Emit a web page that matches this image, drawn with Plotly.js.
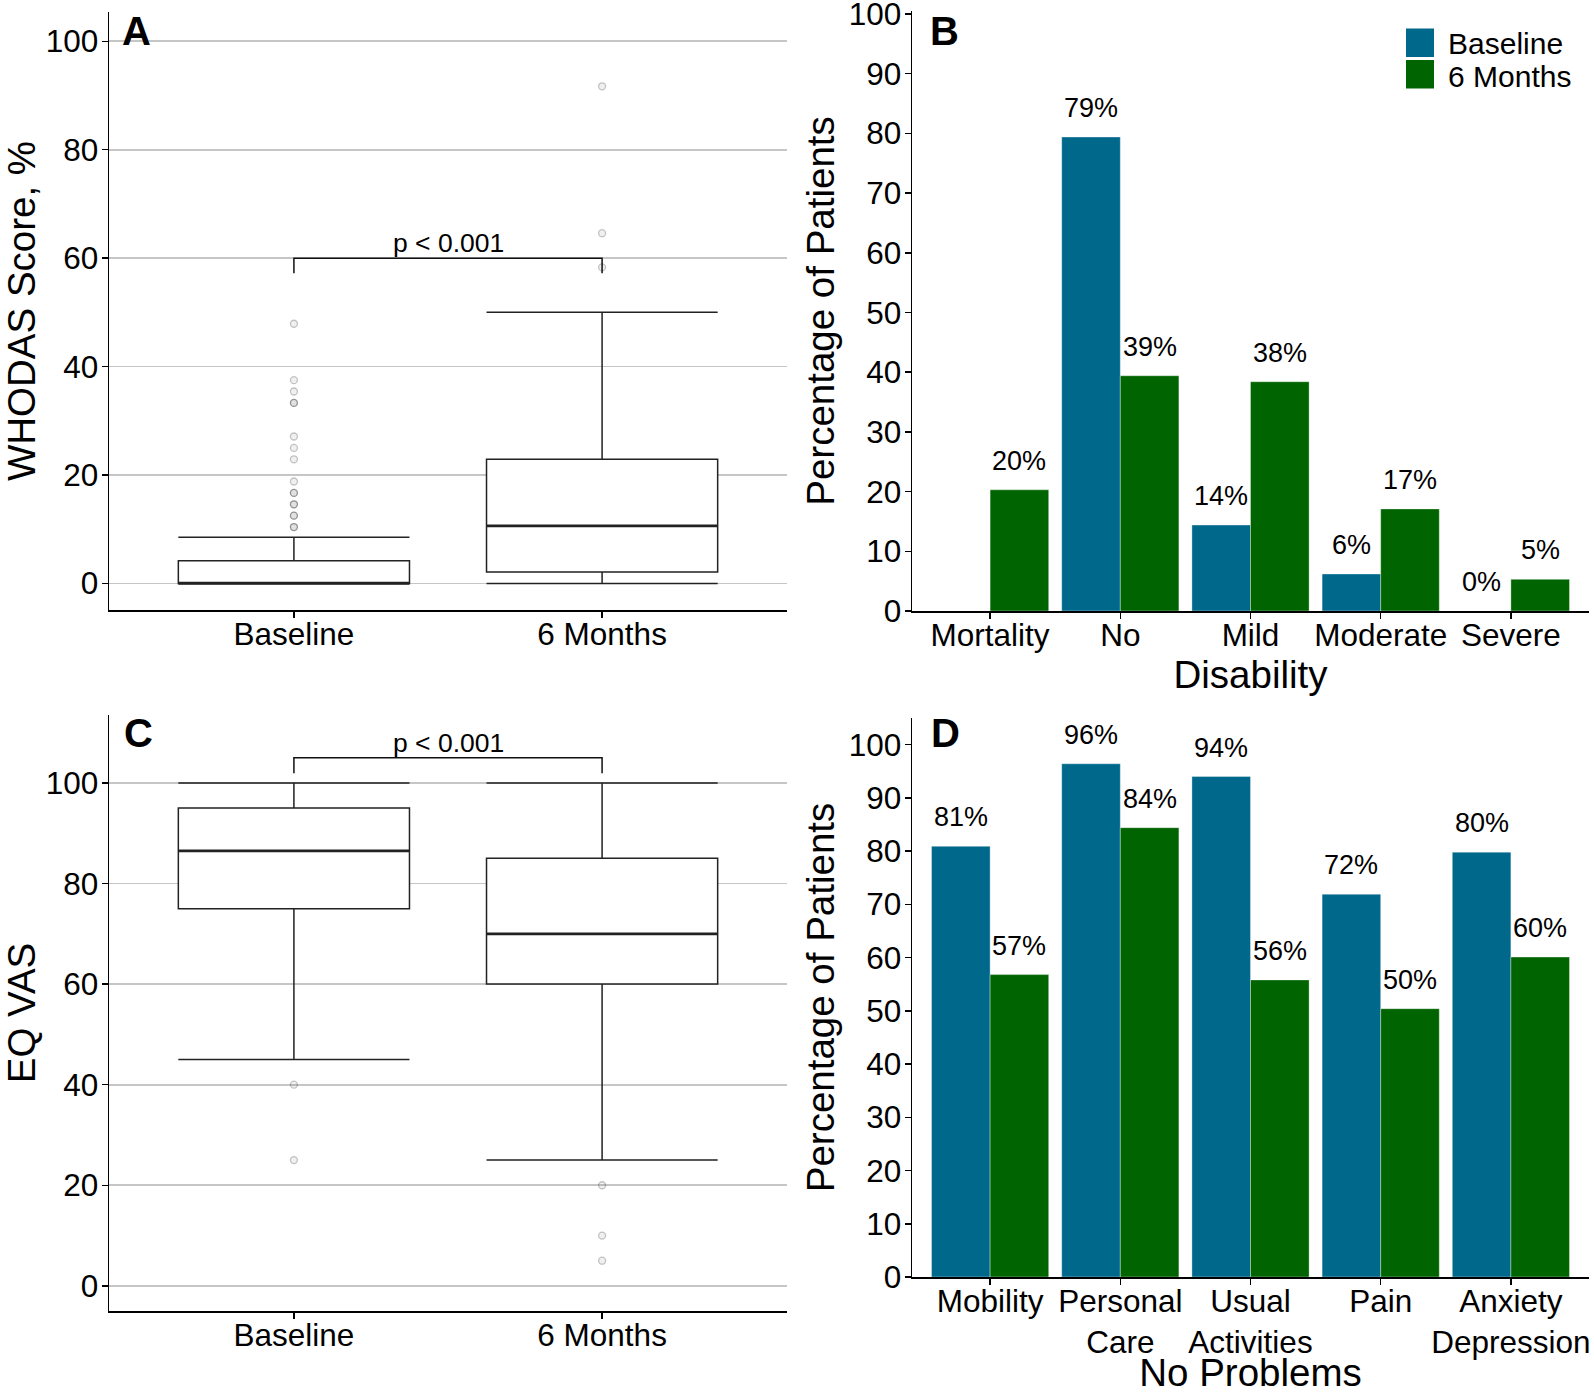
<!DOCTYPE html>
<html>
<head>
<meta charset="utf-8">
<script src="https://cdn.plot.ly/plotly-3.0.1.min.js"></script>
<style>
  html, body { margin: 0; padding: 0; background: #fff; }
  #chart { width: 1594px; height: 1394px; }
</style>
</head>
<body>
<div id="chart"></div>
<script>
// ---- data ----
const timepoints = ['Baseline', '6 Months'];

// A: WHODAS score (%) box stats, per timepoint
const whodasQ1 = [0, 2.1];
const whodasMedian = [0, 10.6];
const whodasQ3 = [4.2, 22.9];
const whodasLower = [0, 0];
const whodasUpper = [8.5, 50];
const whodasOutBaseline = [47.9, 37.5, 35.4, 33.3, 33.3, 27.1, 25.0, 22.9, 18.8, 16.7, 16.7, 14.6, 14.6, 12.5, 12.5, 10.4, 10.4];
const whodasOut6m = [91.7, 64.6, 58.3];

// C: EQ VAS box stats
const eqQ1 = [75, 60];
const eqMedian = [86.5, 70];
const eqQ3 = [95, 85];
const eqLower = [45, 25];
const eqUpper = [100, 100];
const eqOutBaseline = [40, 25];
const eqOut6m = [20, 10, 5];

// B: disability level, % of patients
const disabilityCats = ['Mortality', 'No', 'Mild', 'Moderate', 'Severe'];
const disabilityBaseline = [null, 79.4, 14.4, 6.2, 0];
const disability6m = [20.3, 39.4, 38.4, 17.1, 5.3];

// D: EQ-5D "no problems", % of patients
const problemCats = ['Mobility', 'Personal<br>Care', 'Usual<br>Activities', 'Pain', 'Anxiety<br>Depression'];
const problemBaseline = [80.9, 96.4, 94.0, 71.9, 79.8];
const problem6m = [56.8, 84.4, 55.8, 50.4, 60.1];

const pText = 'p < 0.001';
const bracketA = 60, bracketC = 105;

// ---- styling ----
const W = 1594, H = 1394;
const px = x => x / W;
const py = y => 1 - y / H;
const FONT = 'Liberation Sans, Arial, sans-serif';
const BLUE = '#00688B';
const GREEN = '#006400';
const BOXW = 0.75;
const BARW = 0.45;

const traces = [];
const annotations = [];
const shapes = [];

function addBoxPanel(xa, ya, q1, med, q3, lo, hi, outs, bracketY, drop) {
  const idx = timepoints.map((_, i) => i);
  traces.push({
    type: 'box', xaxis: xa, yaxis: ya, orientation: 'v',
    x: idx, q1: q1, median: med, q3: q3, lowerfence: lo, upperfence: hi,
    width: BOXW, whiskerwidth: 1, boxpoints: false,
    fillcolor: '#ffffff', line: { color: '#222', width: 1.5 },
    hoverinfo: 'skip', showlegend: false
  });
  // thicker median line like ggplot
  const mx = [], my = [];
  med.forEach((m, i) => { mx.push(i - BOXW / 2, i + BOXW / 2, null); my.push(m, m, null); });
  traces.push({ type: 'scatter', mode: 'lines', xaxis: xa, yaxis: ya, x: mx, y: my,
    line: { color: '#222', width: 2.8 }, hoverinfo: 'skip', showlegend: false });
  // outliers
  outs.forEach((arr, i) => {
    traces.push({ type: 'scatter', mode: 'markers', xaxis: xa, yaxis: ya,
      x: arr.map(() => i), y: arr,
      marker: { size: 7, color: 'rgba(0,0,0,0.06)', line: { color: 'rgba(0,0,0,0.22)', width: 1.3 } },
      hoverinfo: 'skip', showlegend: false });
  });
  // significance bracket
  traces.push({ type: 'scatter', mode: 'lines', xaxis: xa, yaxis: ya,
    x: [0, 0, 1, 1], y: [bracketY - drop, bracketY, bracketY, bracketY - drop],
    line: { color: '#111', width: 1.5 }, hoverinfo: 'skip', showlegend: false });
  annotations.push({ xref: xa, yref: ya, x: 0.5, y: bracketY, yshift: 15, yanchor: 'middle',
    text: pText, showarrow: false, font: { family: FONT, size: 26.5, color: '#000' } });
}

function addBarPanel(xa, ya, base, six) {
  [[base, -BARW / 2, BLUE, timepoints[0]], [six, BARW / 2, GREEN, timepoints[1]]].forEach(([vals, off, col, name]) => {
    traces.push({ type: 'bar', xaxis: xa, yaxis: ya, name: name,
      x: vals.map((_, i) => i + off), y: vals, width: BARW,
      marker: { color: col, line: { color: 'rgba(255,255,255,0.35)', width: 1 } },
      hoverinfo: 'skip', showlegend: false });
    vals.forEach((v, i) => {
      if (v === null) return;
      annotations.push({ xref: xa, yref: ya, x: i + off, y: v, yshift: 29, yanchor: 'middle',
        text: Math.round(v) + '%', showarrow: false, font: { family: FONT, size: 27, color: '#000' } });
    });
  });
}

addBoxPanel('x', 'y', whodasQ1, whodasMedian, whodasQ3, whodasLower, whodasUpper,
  [whodasOutBaseline, whodasOut6m], bracketA, 2.8);
addBarPanel('x2', 'y2', disabilityBaseline, disability6m);
addBoxPanel('x3', 'y3', eqQ1, eqMedian, eqQ3, eqLower, eqUpper,
  [eqOutBaseline, eqOut6m], bracketC, 3.1);
addBarPanel('x4', 'y4', problemBaseline, problem6m);

// panel letters
[['A', 120, 31.5], ['B', 928, 31.5], ['C', 122, 733.5], ['D', 929, 733.5]].forEach(([t, x, y]) => {
  annotations.push({ xref: 'paper', yref: 'paper', x: px(x), y: py(y), xanchor: 'left', yanchor: 'middle',
    text: '<b>' + t + '</b>', showarrow: false, font: { family: FONT, size: 40, color: '#000' } });
});

// legend (panel B)
[[BLUE, 28.5, 43.7], [GREEN, 60, 76.2]].forEach(([col, top, mid], i) => {
  shapes.push({ type: 'rect', xref: 'paper', yref: 'paper', x0: px(1406), x1: px(1434),
    y0: py(top + 28.5), y1: py(top), fillcolor: col, line: { width: 0 } });
  annotations.push({ xref: 'paper', yref: 'paper', x: px(1446), y: py(mid), xanchor: 'left', yanchor: 'middle',
    text: timepoints[i], showarrow: false, font: { family: FONT, size: 30, color: '#000' } });
});

const tickFont = { family: FONT, size: 31.5, color: '#000' };
const titleFont = { family: FONT, size: 38.5, color: '#000' };
const axisBase = {
  showline: true, linecolor: '#000', linewidth: 1.5,
  ticks: 'outside', ticklen: 6, tickcolor: '#000', tickwidth: 1.5,
  tickfont: tickFont, zeroline: false, fixedrange: true, ticklabeloverflow: 'allow'
};
const xBox = Object.assign({}, axisBase, { range: [-0.6, 1.6], tickvals: [0, 1], ticktext: timepoints,
  showgrid: false, ticklabelstandoff: -10 });
const xBar = (cats) => Object.assign({}, axisBase, { range: [-0.6, 4.6], tickvals: cats.map((_, i) => i),
  ticktext: cats, showgrid: false, ticklabelstandoff: -10 });
const yGrid = Object.assign({}, axisBase, { showgrid: true, gridcolor: '#c6c6c6', gridwidth: 1.8,
  tickvals: [0, 20, 40, 60, 80, 100], ticklabelstandoff: -3 });
const yBar = Object.assign({}, axisBase, { showgrid: false,
  tickvals: [0, 10, 20, 30, 40, 50, 60, 70, 80, 90, 100], ticklabelstandoff: -3 });

const layout = {
  width: W, height: H,
  margin: { l: 0, r: 0, t: 0, b: 0 },
  paper_bgcolor: '#fff', plot_bgcolor: 'rgba(0,0,0,0)',
  barmode: 'overlay', showlegend: false,
  font: { family: FONT, color: '#000' },
  xaxis: Object.assign({}, xBox, { domain: [px(109), px(787)], anchor: 'y' }),
  yaxis: Object.assign({}, yGrid, { domain: [py(610), py(12)], range: [-4.9, 105.4], anchor: 'x',
    title: { text: 'WHODAS Score, %', font: titleFont, standoff: 6 } }),
  xaxis2: Object.assign({}, xBar(disabilityCats), { domain: [px(912), px(1589)], anchor: 'y2',
    title: { text: 'Disability', font: titleFont, standoff: 6 } }),
  yaxis2: Object.assign({}, yBar, { domain: [py(611), py(11)], range: [0, 100.5], anchor: 'x2',
    title: { text: 'Percentage of Patients', font: titleFont, standoff: 2 } }),
  xaxis3: Object.assign({}, xBox, { domain: [px(109), px(787)], anchor: 'y3' }),
  yaxis3: Object.assign({}, yGrid, { domain: [py(1311), py(715)], range: [-5, 113.5], anchor: 'x3',
    title: { text: 'EQ VAS', font: titleFont, standoff: 6 } }),
  xaxis4: Object.assign({}, xBar(problemCats), { domain: [px(912), px(1589)], anchor: 'y4',
    title: { text: 'No Problems', font: titleFont, standoff: 25 } }),
  yaxis4: Object.assign({}, yBar, { domain: [py(1277), py(718)], range: [0, 105], anchor: 'x4',
    title: { text: 'Percentage of Patients', font: titleFont, standoff: 2 } }),
  annotations: annotations,
  shapes: shapes
};

Plotly.newPlot('chart', traces, layout, { staticPlot: true, displayModeBar: false });
</script>
</body>
</html>
